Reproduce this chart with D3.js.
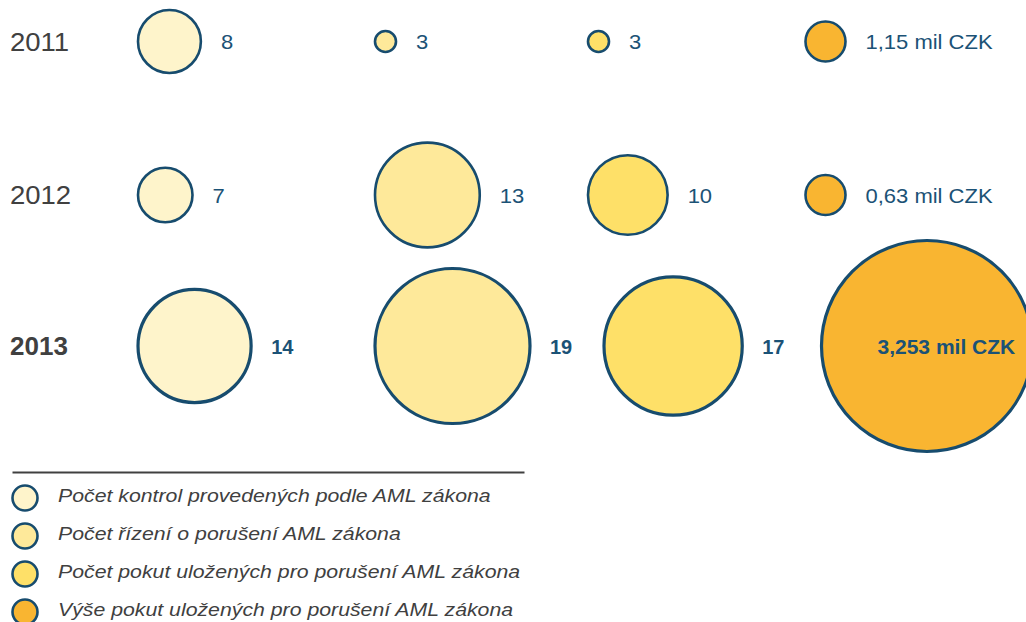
<!DOCTYPE html>
<html>
<head>
<meta charset="utf-8">
<script src="https://cdn.jsdelivr.net/npm/d3@7"></script>
<style>
  html, body { margin: 0; padding: 0; background: #fff; }
  svg { display: block; font-family: "Liberation Sans", Arial, sans-serif; }
</style>
</head>
<body>
<div class="chart"></div>
<script>
// data
const years = ['2011', '2012', '2013'];
const kontroly = [8, 7, 14];
const rizeni = [3, 13, 19];
const pokutyPocet = [3, 10, 17];
const pokutyVyse = [1.15, 0.63, 3.253];
const vyseLabels = ['1,15 mil CZK', '0,63 mil CZK', '3,253 mil CZK'];
const legendLabels = [
  'Počet kontrol provedených podle AML zákona',
  'Počet řízení o porušení AML zákona',
  'Počet pokut uložených pro porušení AML zákona',
  'Výše pokut uložených pro porušení AML zákona'
];

const w = 1026, h = 622;
const fills = ['#fef4cb', '#fee99a', '#fee068', '#f9b531'];
const strokeCol = '#174c6e';
const labelCol = '#1b5276';
const grey = '#404040';
const stretch = 1.1;

// layout: left edge of each column, per row (last row shifted a bit)
const colLeft = [
  [136.5, 373.5, 586.5, 804],
  [136.5, 373.5, 586.5, 804],
  [136.5, 373.5, 602.5, 820]
];

const yScale = d3.scaleOrdinal().domain(years).range([41.5, 195, 346]);
const rScale = d3.scaleLinear().domain([3, 19]).range([10.5, 77.5]);
const rMoney = d3.scaleLinear().domain([1.15, 3.253]).range([20, 105.5]).clamp(true);

const svg = d3.select('div.chart')
  .append('svg')
  .attr('width', w)
  .attr('height', h);

// build one cell per (year, column)
const cells = [];
years.forEach((y, i) => {
  const vals = [kontroly[i], rizeni[i], pokutyPocet[i]];
  vals.forEach((v, j) => {
    cells.push({year: y, row: i, col: j, r: rScale(v), label: String(v), inside: false});
  });
  cells.push({year: y, row: i, col: 3, r: rMoney(pokutyVyse[i]), label: vyseLabels[i], inside: pokutyVyse[i] > 3});
});
cells.forEach(d => {
  d.cx = colLeft[d.row][d.col] + d.r + 1.5;
  d.cy = yScale(d.year);
  d.bold = d.year === '2013';
});

svg.selectAll('circle.bubble')
  .data(cells)
  .enter()
  .append('circle')
  .attr('class', 'bubble')
  .attr('cx', d => d.cx)
  .attr('cy', d => d.cy)
  .attr('r', d => d.r)
  .attr('fill', d => fills[d.col])
  .attr('stroke', strokeCol)
  .attr('stroke-width', d => d.bold ? 3.2 : 2.6);

svg.selectAll('text.val')
  .data(cells)
  .enter()
  .append('text')
  .attr('class', 'val')
  .attr('fill', labelCol)
  .attr('font-size', d => d.bold ? (d.inside ? 21 : 20) : 20)
  .attr('font-weight', d => d.bold ? 'bold' : 'normal')
  .attr('transform', d => {
    const x = d.inside ? d.cx - d.r + 56 : d.cx + d.r + 20;
    const y = d.cy + 7.5;
    return 'translate(' + x + ',' + y + ')' + (d.bold ? '' : ' scale(' + stretch + ',1)');
  })
  .text(d => d.label);

// year labels
svg.selectAll('text.year')
  .data(years)
  .enter()
  .append('text')
  .attr('class', 'year')
  .attr('fill', grey)
  .attr('font-size', d => d === '2013' ? 26 : 25)
  .attr('font-weight', d => d === '2013' ? 'bold' : 'normal')
  .attr('transform', d => 'translate(10,' + (yScale(d) + 9) + ')' + (d === '2013' ? '' : ' scale(' + stretch + ',1)'))
  .text(d => d);

// legend
svg.append('line')
  .attr('x1', 12.5)
  .attr('x2', 524.5)
  .attr('y1', 472.5)
  .attr('y2', 472.5)
  .attr('stroke', grey)
  .attr('stroke-width', 2);

const legY = d3.scalePoint().domain(legendLabels).range([498, 612]);

const leg = svg.selectAll('g.leg')
  .data(legendLabels)
  .enter()
  .append('g')
  .attr('class', 'leg')
  .attr('transform', d => 'translate(0,' + legY(d) + ')');

leg.append('circle')
  .attr('cx', 25)
  .attr('cy', 0)
  .attr('r', 12.5)
  .attr('fill', (d, i) => fills[i])
  .attr('stroke', strokeCol)
  .attr('stroke-width', 2.6);

leg.append('text')
  .attr('transform', 'translate(58,3.5) scale(1.12,1)')
  .attr('fill', grey)
  .attr('font-size', 19)
  .attr('font-style', 'italic')
  .text(d => d);
</script>
</body>
</html>
